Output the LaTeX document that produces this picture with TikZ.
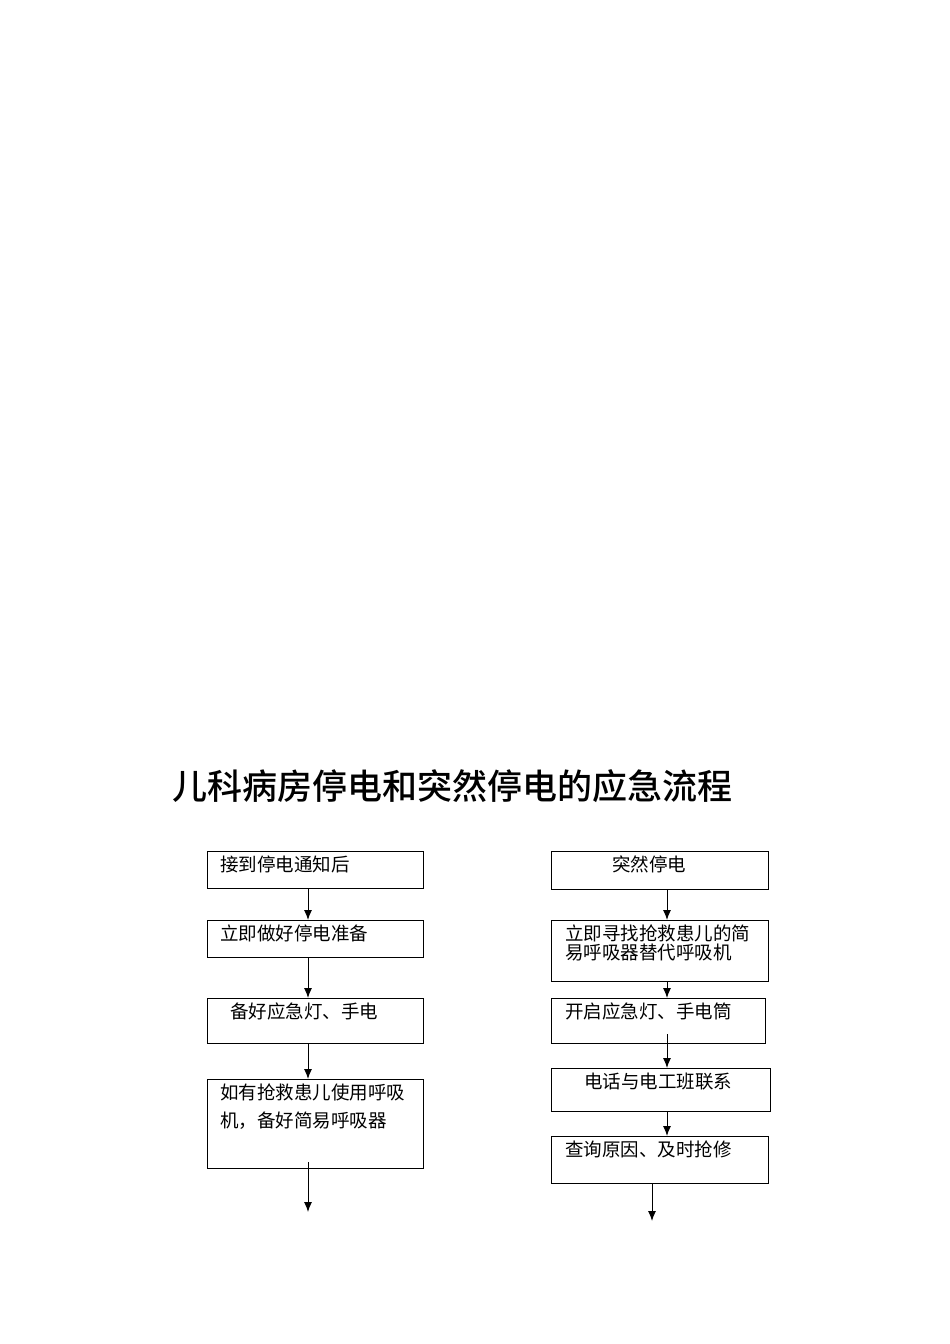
\documentclass[tikz,border=0pt]{standalone}
\usepackage{fontspec}
\newfontfamily\cjk{Noto Sans CJK SC}
\newfontfamily\cjkb{Noto Sans CJK SC Medium}
\tikzset{bx/.style={draw,line width=1pt,inner sep=0pt},
 tx/.style={anchor=north west,font=\cjk\fontsize{18.5}{28}\selectfont,inner sep=0pt,align=left},
 ar/.style={-{Latex[length=10pt,width=8pt]},line width=1pt}}
\usetikzlibrary{arrows.meta}
\begin{document}
\begin{tikzpicture}[x=1pt,y=-1pt]
\useasboundingbox (0,0) rectangle (950,1344);
\node[anchor=west,font=\cjkb\fontsize{35}{38}\selectfont,inner sep=0pt] (t) at (172,786) {儿科病房停电和突然停电的应急流程};
% left
\node[bx,minimum width=216,minimum height=37,anchor=north west] (l1) at (207,851) {};
\node[bx,minimum width=216,minimum height=37,anchor=north west] (l2) at (207,920) {};
\node[bx,minimum width=216,minimum height=45,anchor=north west] (l3) at (207,998) {};
\node[bx,minimum width=216,minimum height=89,anchor=north west] (l4) at (207,1079) {};
\node[tx] at (220,856) {接到停电通知后};
\node[tx] at (220,925) {立即做好停电准备};
\node[tx] at (230,1003) {备好应急灯、手电};
\node[tx] at (220,1084) {如有抢救患儿使用呼吸\\机，备好简易呼吸器};
\coordinate (le) at (308,1212);
\draw[ar] (l1.south -| 308,0) -- (l2.north -| 308,0);
\draw[ar] (l2.south -| 308,0) -- (l3.north -| 308,0);
\draw[ar] (l3.south -| 308,0) -- (l4.north -| 308,0);
\draw[ar] (308,1162) -- (le);
% right
\node[bx,minimum width=217,minimum height=38,anchor=north west] (r1) at (551,851) {};
\node[bx,minimum width=217,minimum height=61,anchor=north west] (r2) at (551,920) {};
\node[bx,minimum width=214,minimum height=45,anchor=north west] (r3) at (551,998) {};
\node[bx,minimum width=219,minimum height=43,anchor=north west] (r4) at (551,1068) {};
\node[bx,minimum width=217,minimum height=47,anchor=north west] (r5) at (551,1136) {};
\node[tx] at (612,856) {突然停电};
\node[tx,font=\cjk\fontsize{18.5}{19}\selectfont] at (565,925) {立即寻找抢救患儿的简\\易呼吸器替代呼吸机};
\node[tx] at (565,1003) {开启应急灯、手电筒};
\node[tx] at (584,1073) {电话与电工班联系};
\node[tx] at (565,1141) {查询原因、及时抢修};
\coordinate (re) at (652,1221);
\draw[ar] (r1.south -| 667,0) -- (r2.north -| 667,0);
\draw[ar] (r2.south -| 667,0) -- (r3.north -| 667,0);
\draw[ar] (667,1034) -- (r4.north -| 667,0);
\draw[ar] (r4.south -| 667,0) -- (r5.north -| 667,0);
\draw[ar] (r5.south -| 652,0) -- (re);
\end{tikzpicture}
\end{document}
